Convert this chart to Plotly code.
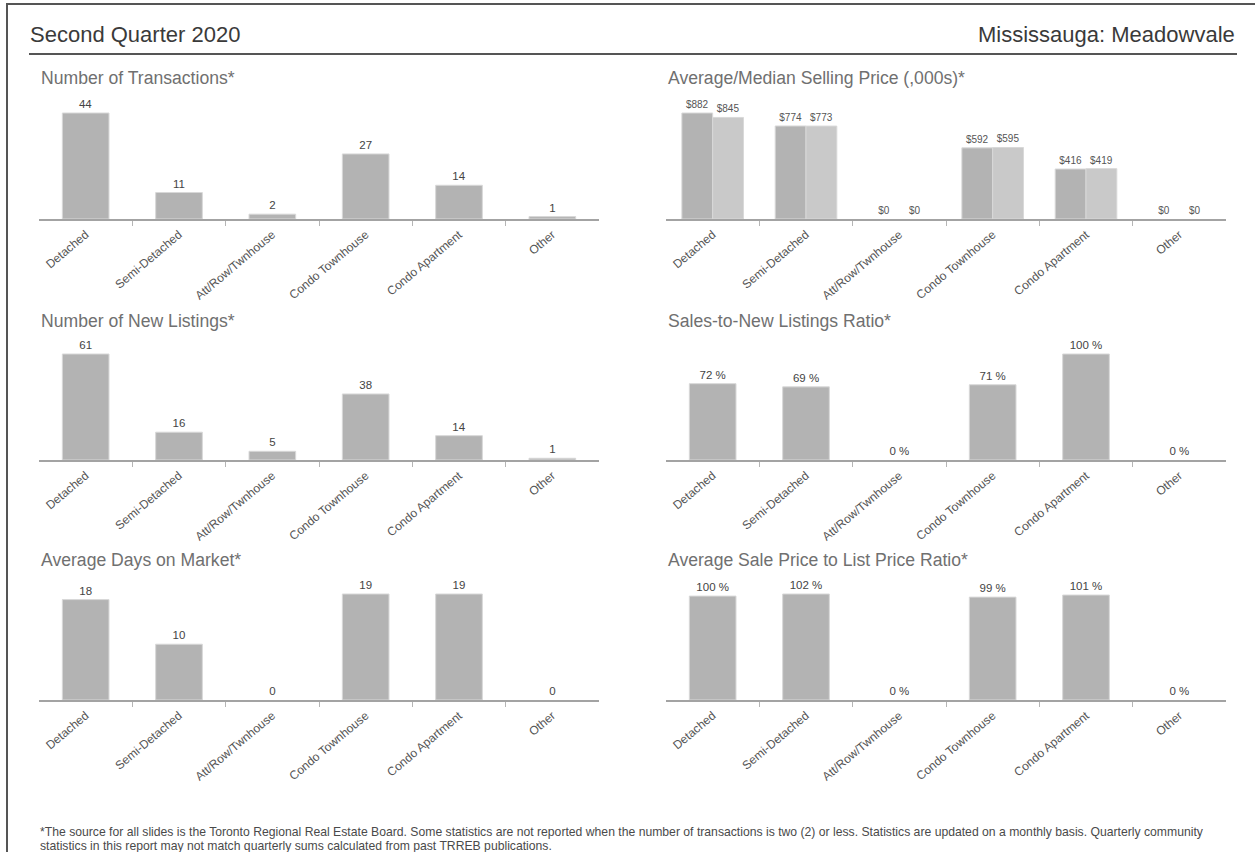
import plotly.graph_objects as go

W, H = 1255, 852

categories = ["Detached", "Semi-Detached", "Att/Row/Twnhouse", "Condo Townhouse", "Condo Apartment", "Other"]

transactions = [44, 11, 2, 27, 14, 1]
new_listings = [61, 16, 5, 38, 14, 1]
days_on_market = [18, 10, 0, 19, 19, 0]
avg_price = [882, 774, 0, 592, 416, 0]
median_price = [845, 773, 0, 595, 419, 0]
snlr = [72, 69, 0, 71, 100, 0]
sp_lp = [100, 102, 0, 99, 101, 0]

header_left = "Second Quarter 2020"
header_right = "Mississauga: Meadowvale"
titles = ["Number of Transactions*", "Average/Median Selling Price (,000s)*",
          "Number of New Listings*", "Sales-to-New Listings Ratio*",
          "Average Days on Market*", "Average Sale Price to List Price Ratio*"]
footnote_lines = [
    "*The source for all slides is the Toronto Regional Real Estate Board. Some statistics are not reported "
    "when the number of transactions is two (2) or less. Statistics are updated on a monthly basis. Quarterly community",
    "statistics in this report may not match quarterly sums calculated from past TRREB publications.",
]

FONT = "Liberation Sans, Arial, sans-serif"
BAR = "#b3b3b3"
BAR_LIGHT = "#c9c9c9"
EDGE = "#d8d8d8"

fig = go.Figure()

col_x = [(39, 599), (666, 1226)]
row_base = [219, 460, 700]
row_title = [78, 321, 560]
PH = 130      # plot height in px
MAXPX = 106   # pixel height of tallest bar

xpos = list(range(len(categories)))
bounds = [p + 0.5 for p in xpos[:-1]]


def px_x(p):
    return p / W


def px_y(p):
    return 1 - p / H


def edge_widths(vals):
    return [1 if v > 0 else 0 for v in vals]


panels = [
    (0, 0, "single", transactions, "{}"),
    (0, 1, "double", None, None),
    (1, 0, "single", new_listings, "{}"),
    (1, 1, "single", snlr, "{} %"),
    (2, 0, "single", days_on_market, "{}"),
    (2, 1, "single", sp_lp, "{} %"),
]

annotations = []
for i, (r, c, kind, vals, fmt) in enumerate(panels):
    n = i + 1
    xa = "x" if n == 1 else f"x{n}"
    ya = "y" if n == 1 else f"y{n}"
    xk = "xaxis" if n == 1 else f"xaxis{n}"
    yk = "yaxis" if n == 1 else f"yaxis{n}"
    x0, x1 = col_x[c]
    base = row_base[r]
    if kind == "single":
        vmax = max(vals)
        fig.add_trace(go.Bar(
            x=xpos, y=vals, xaxis=xa, yaxis=ya, width=0.5,
            marker=dict(color=BAR, line=dict(color=EDGE, width=edge_widths(vals))),
            text=[fmt.format(v) for v in vals], textposition="outside",
            textfont=dict(size=11.5, color="#444", family=FONT),
            cliponaxis=False, showlegend=False, hoverinfo="skip"))
    else:
        vmax = max(max(avg_price), max(median_price))
        fig.add_trace(go.Bar(
            x=xpos, y=avg_price, xaxis=xa, yaxis=ya, width=0.33, offset=-0.33,
            marker=dict(color=BAR, line=dict(color=EDGE, width=edge_widths(avg_price))),
            text=[f"${v}" for v in avg_price], textposition="outside",
            textfont=dict(size=10, color="#555", family=FONT),
            cliponaxis=False, showlegend=False, hoverinfo="skip"))
        fig.add_trace(go.Bar(
            x=xpos, y=median_price, xaxis=xa, yaxis=ya, width=0.33, offset=0.0,
            marker=dict(color=BAR_LIGHT, line=dict(color=EDGE, width=edge_widths(median_price))),
            text=[f"${v}" for v in median_price], textposition="outside",
            textfont=dict(size=10, color="#555", family=FONT),
            cliponaxis=False, showlegend=False, hoverinfo="skip"))
    fig.layout[xk] = dict(
        domain=[px_x(x0), px_x(x1)], anchor=ya, type="linear",
        range=[-0.5, len(categories) - 0.5], showline=True, linecolor="#a3a3a3", linewidth=2,
        tickmode="array", tickvals=xpos, ticktext=categories,
        ticks="outside", ticklen=2, tickcolor="rgba(0,0,0,0)", tickwidth=1,
        minor=dict(tickmode="array", tickvals=bounds, ticks="outside", ticklen=5,
                   tickcolor="#b5b5b5", tickwidth=1, showgrid=False),
        tickangle=-40, tickfont=dict(size=12, color="#555", family=FONT),
        showgrid=False, zeroline=False, fixedrange=True)
    fig.layout[yk] = dict(
        domain=[px_y(base), px_y(base - PH)], anchor=xa,
        range=[0, vmax * PH / MAXPX], visible=False, showgrid=False, zeroline=False)
    annotations.append(dict(
        text=titles[i], xref="paper", yref="paper", x=px_x(x0), y=px_y(row_title[r]),
        xanchor="left", yanchor="middle", showarrow=False,
        font=dict(size=17.6, color="#707070", family=FONT)))

annotations.append(dict(
    text=header_left, xref="paper", yref="paper", x=px_x(28), y=px_y(35),
    xanchor="left", yanchor="middle", showarrow=False,
    font=dict(size=22, color="#3a3a3a", family=FONT)))
annotations.append(dict(
    text=header_right, xref="paper", yref="paper", x=px_x(1237), y=px_y(35),
    xanchor="right", yanchor="middle", showarrow=False,
    font=dict(size=22, color="#3a3a3a", family=FONT)))
for k, line in enumerate(footnote_lines):
    annotations.append(dict(
        text=line, xref="paper", yref="paper", x=px_x(38), y=px_y(832 + 14 * k),
        xanchor="left", yanchor="middle", align="left", showarrow=False,
        font=dict(size=12.2, color="#4a4a4a", family=FONT)))

shapes = [
    dict(type="line", xref="paper", yref="paper", x0=px_x(29), x1=px_x(1237),
         y0=px_y(54), y1=px_y(54), line=dict(color="#555", width=2)),
    dict(type="rect", xref="paper", yref="paper", x0=px_x(7), x1=px_x(1270),
         y0=px_y(870), y1=px_y(4), line=dict(color="#555", width=2)),
]

fig.update_layout(
    width=W, height=H, margin=dict(l=0, r=0, t=0, b=0),
    paper_bgcolor="white", plot_bgcolor="white",
    barmode="group", annotations=annotations, shapes=shapes,
    font=dict(family=FONT), showlegend=False)

fig.write_html("out.html", config={"displayModeBar": False})
